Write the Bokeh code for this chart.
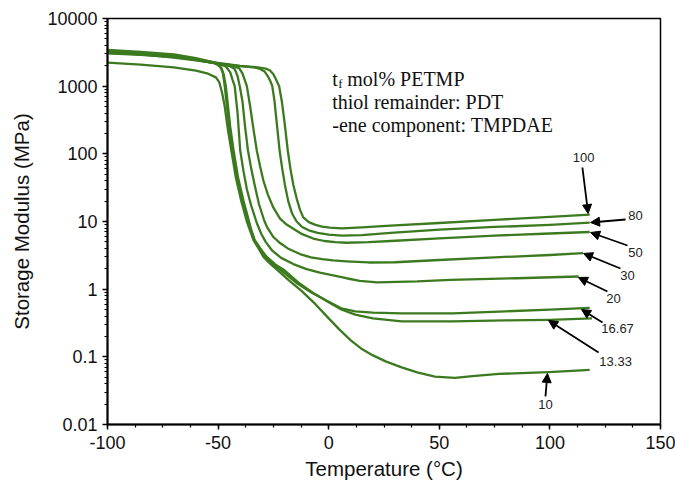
import numpy as np
from bokeh.plotting import figure
from bokeh.models import Range1d, FixedTicker, CustomJSTickFormatter, Label, Arrow, NormalHead
from bokeh.embed import file_html
from bokeh.resources import INLINE

# ---------------- data ----------------
x_ticks = [-100, -50, 0, 50, 100, 150]
y_ticks = [0.01, 0.1, 1, 10, 100, 1000, 10000]

T_100 = [-100, -85, -70, -60, -50, -40, -32, -28.5, -26.5, -25, -23.8, -22.4, -21.2, -20, -18.5, -17.3, -16, -14.5, -13, -11.5, -9, -6, -3, 0.5, 6, 15, 28, 50, 75, 100, 118]
E_100 = [3350, 3100, 2800, 2500, 2200, 2000, 1900, 1820, 1700, 1500, 1250, 1000, 600, 300, 112, 60, 35, 22, 15, 11.5, 9.8, 8.9, 8.4, 8.1, 7.9, 8.2, 8.7, 9.5, 10.6, 11.7, 12.6]

T_80 = [-100, -85, -70, -60, -50, -40, -34, -31, -29, -27.5, -26.2, -25.5, -24.5, -23.3, -22.2, -21, -19.8, -18.3, -16.5, -14.5, -12, -9, -5, 0, 6, 15, 28, 50, 75, 100, 118]
E_80 = [3250, 3000, 2700, 2450, 2150, 1980, 1900, 1800, 1650, 1400, 1150, 1000, 600, 250, 112, 60, 35, 20, 13, 10, 8.3, 7.4, 6.8, 6.4, 6.2, 6.3, 6.8, 7.6, 8.3, 8.9, 9.6]

T_50 = [-100, -85, -70, -60, -50, -44, -40.5, -39, -38, -37, -35.5, -34, -32.5, -31, -29.5, -27.5, -25, -22, -19, -16, -12, -7, -2, 3, 8, 18, 28, 50, 75, 100, 118]
E_50 = [3150, 2950, 2650, 2400, 2150, 2020, 1850, 1550, 1250, 1000, 500, 230, 112, 65, 40, 25, 16, 11, 9, 7.8, 6.5, 5.6, 5.15, 4.95, 4.85, 4.95, 5.15, 5.65, 6.2, 6.65, 7.0]

T_30 = [-100, -85, -70, -60, -50, -45, -42.5, -41.2, -40.2, -39, -37.8, -36.5, -35, -33.5, -31.5, -29, -27.8, -25, -22, -18.5, -13, -8, -3, 2, 8, 18, 30, 50, 75, 100, 115]
E_30 = [3050, 2900, 2700, 2450, 2150, 2000, 1800, 1400, 1000, 600, 250, 112, 60, 35, 18, 10, 8.2, 5.9, 4.8, 4.0, 3.3, 2.95, 2.78, 2.66, 2.58, 2.48, 2.5, 2.7, 2.95, 3.2, 3.4]

T_20 = [-100, -85, -70, -60, -50, -46.5, -44.5, -43.5, -42.5, -41.2, -40, -38.5, -37, -35, -32.5, -30.5, -28.5, -25.5, -21.5, -16, -10, -4, 2, 8, 14, 22, 40, 55, 85, 113]
E_20 = [3100, 2950, 2750, 2450, 2150, 1950, 1600, 1250, 1000, 400, 112, 55, 30, 17, 9.5, 6.6, 5.0, 3.7, 2.9, 2.35, 1.98, 1.76, 1.6, 1.45, 1.33, 1.26, 1.3, 1.37, 1.45, 1.54]

T_1667 = [-100, -85, -70, -60, -52, -50, -48.5, -47.5, -46.5, -45.5, -44.5, -43, -41, -38.5, -36, -35, -33.5, -31, -28.5, -25, -21.5, -14, -8, 0, 5.7, 12, 20, 33, 56, 80, 100, 118]
E_1667 = [3300, 3100, 2850, 2500, 2200, 2050, 1850, 1500, 1000, 500, 250, 112, 45, 20, 10, 7.5, 5.3, 4.0, 3.0, 2.3, 1.9, 1.2, 0.9, 0.65, 0.52, 0.47, 0.45, 0.44, 0.44, 0.47, 0.5, 0.53]

T_1333 = [-100, -85, -70, -60, -52, -50, -48.8, -47.8, -47, -46, -45, -43.5, -41.5, -39, -36.5, -35.2, -33.5, -31, -28, -24, -20, -13, -7, 0, 5.7, 12, 20, 33, 56, 80, 100, 119]
E_1333 = [3450, 3200, 2950, 2600, 2250, 2100, 1900, 1550, 1000, 500, 250, 112, 45, 20, 10, 7.5, 5.3, 4.0, 3.0, 2.3, 1.9, 1.2, 0.88, 0.64, 0.5, 0.42, 0.37, 0.335, 0.335, 0.345, 0.352, 0.37]

T_10 = [-100, -85, -70, -60, -55, -51, -49.5, -48.2, -47, -45.5, -44, -42, -39.5, -37, -35.5, -34, -31.5, -29.5, -26, -23, -18, -12.4, -6, 0, 5, 10, 15, 20, 26, 33, 40, 48, 57, 65, 77, 90, 99.5, 110, 118]
E_10 = [2230, 2080, 1900, 1700, 1550, 1350, 1150, 800, 500, 220, 112, 45, 20, 10, 7.3, 5.3, 3.9, 3.0, 2.3, 1.9, 1.35, 0.95, 0.6, 0.37, 0.25, 0.175, 0.13, 0.105, 0.085, 0.07, 0.059, 0.051, 0.049, 0.052, 0.056, 0.058, 0.0595, 0.062, 0.064]

series_T = [T_100, T_80, T_50, T_30, T_20, T_1667, T_1333, T_10]
series_E = [E_100, E_80, E_50, E_30, E_20, E_1667, E_1333, E_10]

series_labels = ["100", "80", "50", "30", "20", "16.67", "13.33", "10"]
label_x = [115.2, 138.7, 138.7, 135.1, 128.75, 130.6, 129.7, 98.0]
label_y = [88.3, 12.3, 3.48, 1.59, 0.728, 0.262, 0.0853, 0.0197]
arrow_x0 = [114.7, 134.2, 135.1, 131.9, 126.0, 123.8, 122.0, 98.0]
arrow_y0 = [62.8, 10.7, 4.42, 2.02, 0.924, 0.321, 0.116, 0.026]
arrow_x1 = [117.3, 118.4, 118.4, 115.2, 112.9, 114.3, 99.4, 98.9]
arrow_y1 = [13.1, 9.67, 6.88, 3.37, 1.49, 0.50, 0.344, 0.0567]

GREEN = "#3c7a1f"

p = figure(width=675, height=484,
           x_range=Range1d(-100, 150), y_range=Range1d(0.01, 10000),
           y_axis_type="log", output_backend="svg", toolbar_location=None,
           min_border_left=107, min_border_right=15, min_border_top=18, min_border_bottom=60)
p.title.visible = False
p.grid.visible = False
p.outline_line_color = "black"
p.outline_line_width = 1.5
p.background_fill_color = "white"
p.border_fill_color = "white"

for T, E in zip(series_T, series_E):
    p.line(T, E, line_color=GREEN, line_width=2.3, line_join="round")

# axes
p.xaxis.ticker = FixedTicker(ticks=x_ticks, minor_ticks=list(np.arange(-100, 150.1, 12.5)))
p.xaxis.formatter = CustomJSTickFormatter(code="return String(tick);")
p.yaxis.ticker = FixedTicker(ticks=y_ticks,
                             minor_ticks=[m * 10.0 ** k for k in range(-2, 4) for m in range(2, 10)])
p.yaxis.formatter = CustomJSTickFormatter(code="return String(tick);")

p.xaxis.axis_label = "Temperature (°C)"
p.yaxis.axis_label = "Storage Modulus (MPa)"
for ax in [p.xaxis[0], p.yaxis[0]]:
    ax.axis_line_width = 2
    ax.axis_line_color = "black"
    ax.major_tick_line_color = "black"
    ax.minor_tick_line_color = "black"
    ax.major_tick_line_width = 1.5
    ax.minor_tick_line_width = 1.2
    ax.major_tick_in = 0
    ax.major_tick_out = 5
    ax.minor_tick_in = 0
    ax.minor_tick_out = 3
    ax.major_label_text_font = "Liberation Sans"
    ax.major_label_text_font_size = "18px"
    ax.major_label_text_color = "#111111"
    ax.axis_label_text_font = "Liberation Sans"
    ax.axis_label_text_font_size = "20.5px"
    ax.axis_label_text_font_style = "normal"
    ax.axis_label_text_color = "#111111"
p.xaxis.major_label_standoff = 6
p.xaxis.axis_label_standoff = 5
p.yaxis.major_label_standoff = 5
p.yaxis.axis_label_standoff = 11

# annotation block (serif)
SERIF = "Liberation Serif"
p.add_layout(Label(x=1.6, y=1285, text="t", text_font=SERIF, text_font_size="20px",
                   text_baseline="alphabetic", text_color="#111111"))
p.add_layout(Label(x=4.3, y=1095, text="f", text_font=SERIF, text_font_size="13px",
                   text_baseline="alphabetic", text_color="#111111"))
p.add_layout(Label(x=8.4, y=1285, text="mol% PETMP", text_font=SERIF, text_font_size="20px",
                   text_baseline="alphabetic", text_color="#111111"))
p.add_layout(Label(x=1.6, y=593, text="thiol remainder: PDT", text_font=SERIF, text_font_size="20px",
                   text_baseline="alphabetic", text_color="#111111"))
p.add_layout(Label(x=1.6, y=268, text="-ene component: TMPDAE", text_font=SERIF, text_font_size="20px",
                   text_baseline="alphabetic", text_color="#111111"))

# arrows and series labels
for i, lab in enumerate(series_labels):
    p.add_layout(Arrow(x_start=arrow_x0[i], y_start=arrow_y0[i], x_end=arrow_x1[i], y_end=arrow_y1[i],
                       line_color="black", line_width=1.8,
                       end=NormalHead(size=9, fill_color="black", line_color="black", line_width=1)))
    p.add_layout(Label(x=label_x[i], y=label_y[i], text=lab, text_font="Liberation Sans",
                       text_font_size="13px", text_align="center", text_baseline="middle",
                       text_color="#222222"))

open("out.html", "w").write(file_html(p, INLINE))
